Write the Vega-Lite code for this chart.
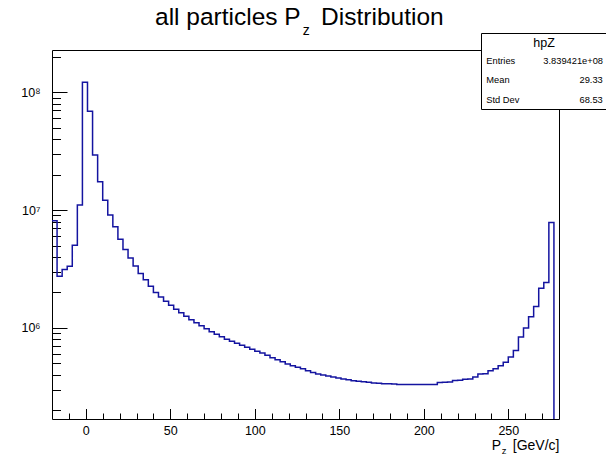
{
  "$schema": "https://vega.github.io/schema/vega-lite/v6.json",
  "width": 507,
  "height": 369,
  "autosize": {"type": "none"},
  "padding": {"left": 52, "top": 50, "right": 47, "bottom": 37},
  "background": "white",
  "title": {
    "text": "all particles P\u00a0\u00a0\u00a0Distribution",
    "subtitle": "\u200b\u00a0\u00a0\u00a0\u00a0\u00a0\u00a0\u00a0\u00a0\u00a0\u00a0\u00a0\u00a0\u00a0\u00a0\u00a0\u00a0\u00a0\u00a0\u00a0\u00a0\u00a0\u00a0\u00a0\u00a0\u00a0\u00a0\u00a0\u00a0\u00a0\u00a0\u00a0\u00a0\u00a0\u00a0\u00a0\u00a0\u00a0\u00a0z",
    "anchor": "start",
    "align": "left",
    "frame": "group",
    "dx": 103,
    "offset": -6,
    "font": "Liberation Sans",
    "fontSize": 24.5,
    "fontWeight": "normal",
    "color": "black",
    "subtitleFont": "Liberation Sans",
    "subtitleFontSize": 14,
    "subtitleColor": "black",
    "subtitlePadding": -6.5
  },
  "config": {
    "view": {"stroke": "black", "strokeWidth": 1},
    "font": "Liberation Sans",
    "axis": {"grid": false, "labelFont": "Liberation Sans", "titleFont": "Liberation Sans", "labelColor": "black", "titleColor": "black", "tickColor": "black"}
  },
  "data": {
    "values": [
      {"pz_low": -20, "count": 8110000}, {"pz_low": -17, "count": 2750000}, {"pz_low": -14, "count": 3130000}, {"pz_low": -11, "count": 3340000},
      {"pz_low": -8, "count": 5040000}, {"pz_low": -5, "count": 11030000}, {"pz_low": -2, "count": 121600000}, {"pz_low": 1, "count": 69000000},
      {"pz_low": 4, "count": 29300000}, {"pz_low": 7, "count": 17400000}, {"pz_low": 10, "count": 12090000}, {"pz_low": 13, "count": 9070000},
      {"pz_low": 16, "count": 7210000}, {"pz_low": 19, "count": 5670000}, {"pz_low": 22, "count": 4640000}, {"pz_low": 25, "count": 3930000},
      {"pz_low": 28, "count": 3360000}, {"pz_low": 31, "count": 2900000}, {"pz_low": 34, "count": 2560000}, {"pz_low": 37, "count": 2260000},
      {"pz_low": 40, "count": 2000000}, {"pz_low": 43, "count": 1834000}, {"pz_low": 46, "count": 1686000}, {"pz_low": 49, "count": 1559000},
      {"pz_low": 52, "count": 1441000}, {"pz_low": 55, "count": 1346000}, {"pz_low": 58, "count": 1257000}, {"pz_low": 61, "count": 1174000},
      {"pz_low": 64, "count": 1107000}, {"pz_low": 67, "count": 1044000}, {"pz_low": 70, "count": 984000}, {"pz_low": 73, "count": 928000},
      {"pz_low": 76, "count": 884000}, {"pz_low": 79, "count": 842000}, {"pz_low": 82, "count": 802000}, {"pz_low": 85, "count": 771000},
      {"pz_low": 88, "count": 741000}, {"pz_low": 91, "count": 713000}, {"pz_low": 94, "count": 685000}, {"pz_low": 97, "count": 659000},
      {"pz_low": 100, "count": 634000}, {"pz_low": 103, "count": 613000}, {"pz_low": 106, "count": 586000}, {"pz_low": 109, "count": 558000},
      {"pz_low": 112, "count": 537000}, {"pz_low": 115, "count": 516000}, {"pz_low": 118, "count": 496000}, {"pz_low": 121, "count": 479000},
      {"pz_low": 124, "count": 464000}, {"pz_low": 127, "count": 450000}, {"pz_low": 130, "count": 433000}, {"pz_low": 133, "count": 420000},
      {"pz_low": 136, "count": 408000}, {"pz_low": 139, "count": 400000}, {"pz_low": 142, "count": 391000}, {"pz_low": 145, "count": 383000},
      {"pz_low": 148, "count": 376000}, {"pz_low": 151, "count": 369000}, {"pz_low": 154, "count": 363000}, {"pz_low": 157, "count": 357000},
      {"pz_low": 160, "count": 354000}, {"pz_low": 163, "count": 350000}, {"pz_low": 166, "count": 346000}, {"pz_low": 169, "count": 342000},
      {"pz_low": 172, "count": 339000}, {"pz_low": 175, "count": 337000}, {"pz_low": 178, "count": 336000}, {"pz_low": 181, "count": 334000},
      {"pz_low": 184, "count": 332000}, {"pz_low": 187, "count": 332000}, {"pz_low": 190, "count": 332000}, {"pz_low": 193, "count": 332000},
      {"pz_low": 196, "count": 332000}, {"pz_low": 199, "count": 332000}, {"pz_low": 202, "count": 332000}, {"pz_low": 205, "count": 332000},
      {"pz_low": 208, "count": 344000}, {"pz_low": 211, "count": 346000}, {"pz_low": 214, "count": 348000}, {"pz_low": 217, "count": 359000},
      {"pz_low": 220, "count": 361000}, {"pz_low": 223, "count": 367000}, {"pz_low": 226, "count": 369000}, {"pz_low": 229, "count": 383000},
      {"pz_low": 232, "count": 407000}, {"pz_low": 235, "count": 410000}, {"pz_low": 238, "count": 433000}, {"pz_low": 241, "count": 450000},
      {"pz_low": 244, "count": 479000}, {"pz_low": 247, "count": 511000}, {"pz_low": 250, "count": 567000}, {"pz_low": 253, "count": 644000},
      {"pz_low": 256, "count": 837000}, {"pz_low": 259, "count": 1000000}, {"pz_low": 262, "count": 1245000}, {"pz_low": 265, "count": 1520000},
      {"pz_low": 268, "count": 2175000}, {"pz_low": 271, "count": 2430000}, {"pz_low": 274, "count": 7830000}, {"pz_low": 277, "count": 1}
    ]
  },
  "layer": [
    {
      "mark": {"type": "line", "interpolate": "step-after", "color": "#1414a0", "strokeWidth": 1.5, "clip": true},
      "encoding": {
        "x": {"field": "pz_low", "type": "quantitative", "scale": {"domain": [-20, 280], "nice": false, "zero": false},
          "axis": {"orient": "bottom", "values": [0, 50, 100, 150, 200, 250], "ticks": false, "domain": false, "labelFontSize": 12.5, "labelPadding": 5, "labelFlush": false,
            "title": "P\u00a0\u00a0\u00a0[GeV/c]", "titleAnchor": "end", "titleAlign": "right", "titleFontSize": 14, "titleFontWeight": "normal", "titlePadding": 2}},
        "y": {"field": "count", "type": "quantitative", "scale": {"type": "log", "domain": [169000, 228000000], "nice": false},
          "axis": {"orient": "left", "values": [1000000, 10000000, 100000000], "labelExpr": "datum.value >= 100000000 ? '10⁸' : datum.value >= 10000000 ? '10⁷' : '10⁶'",
            "ticks": false, "domain": false, "title": null, "labelPadding": 12, "labelFontSize": 12.5}}
      }
    },
    {
      "mark": {"type": "line", "opacity": 0},
      "encoding": {
        "x": {"field": "pz_low", "type": "quantitative",
          "axis": {"orient": "bottom", "values": [0, 50, 100, 150, 200, 250], "labels": false, "domain": false, "ticks": true, "tickSize": -10.5, "tickWidth": 1, "title": null}},
        "y": {"field": "count", "type": "quantitative",
          "axis": {"orient": "left", "values": [1000000, 10000000, 100000000], "labels": false, "domain": false, "ticks": true, "tickSize": -15, "tickWidth": 1, "title": null}}
      }
    },
    {
      "mark": {"type": "line", "opacity": 0},
      "encoding": {
        "x": {"field": "pz_low", "type": "quantitative",
          "axis": {"orient": "bottom", "values": [-10, 10, 20, 30, 40, 60, 70, 80, 90, 110, 120, 130, 140, 160, 170, 180, 190, 210, 220, 230, 240, 260, 270], "labels": false, "domain": false, "ticks": true, "tickSize": -6, "tickWidth": 1, "title": null}},
        "y": {"field": "count", "type": "quantitative",
          "axis": {"orient": "left", "values": [200000, 300000, 400000, 500000, 600000, 700000, 800000, 900000, 2000000, 3000000, 4000000, 5000000, 6000000, 7000000, 8000000, 9000000, 20000000, 30000000, 40000000, 50000000, 60000000, 70000000, 80000000, 90000000, 200000000], "labels": false, "domain": false, "ticks": true, "tickSize": -8.5, "tickWidth": 1, "title": null}}
      }
    },
    {
      "mark": {"type": "line", "opacity": 0},
      "encoding": {
        "x": {"field": "pz_low", "type": "quantitative",
          "axis": {"orient": "bottom", "labels": false, "domain": false, "ticks": false, "title": "z", "titleFontSize": 9.5, "titleFontWeight": "normal", "titleX": 451.5, "titleY": 31, "titleAlign": "center", "titleBaseline": "middle", "titleAngle": 0}},
        "y": {"field": "count", "type": "quantitative", "axis": null}
      }
    },
    {
      "data": {"values": [{"label": "Entries"}, {"label": "3.839421e+08"}, {"label": "Mean"}, {"label": "29.33"}, {"label": "Std Dev"}, {"label": "68.53"}]},
      "mark": {"type": "point", "opacity": 0},
      "encoding": {
        "color": {"field": "label", "type": "nominal", "sort": null, "scale": {"range": ["black"]},
          "legend": {"title": "hpZ", "orient": "none", "legendX": 429, "legendY": -17, "direction": "horizontal", "columns": 2, "symbolSize": 0, "symbolOpacity": 0, "symbolStrokeWidth": 0,
            "labelOffset": -8, "labelFontSize": 9.3, "labelFont": "Liberation Sans", "labelColor": "black", "labelLimit": 200,
            "labelExpr": "length(datum.label) == 5 ? '\u200b\u2007\u2007\u2007\u2007\u2007\u2007\u2007' + datum.label : datum.label",
            "titleFont": "Liberation Sans", "titleFontSize": 12.5, "titleFontWeight": "normal", "titleColor": "black", "titleAnchor": "middle", "titlePadding": 6.5,
            "rowPadding": 9.5, "columnPadding": 22, "padding": 4, "fillColor": "white", "strokeColor": "black", "cornerRadius": 0}}
      }
    }
  ],
  "resolve": {"axis": {"x": "independent", "y": "independent"}}
}
